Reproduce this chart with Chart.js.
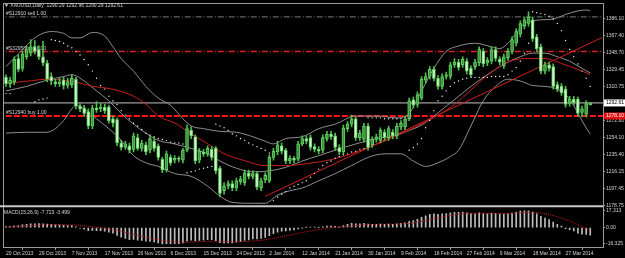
<!DOCTYPE html>
<html>
<head>
<meta charset="utf-8">
<title>XAUUSD Daily</title>
<script src="https://cdn.jsdelivr.net/npm/chart.js@4.4.1/dist/chart.umd.min.js"></script>
<style>
    html, body { margin: 0; padding: 0; background: #000; }
    #myChart { display: block; }
</style>
</head>
<body>
<canvas id="myChart" width="625" height="258"></canvas>
<script>
'use strict';
//Daily candles, 20 Oct 2013 - 3 Apr 2014
const opens = [
    1321, 1314, 1316, 1342, 1331, 1344, 1348, 1355, 1352, 1344,
    1337, 1322, 1316, 1314, 1318, 1312, 1313, 1319, 1289, 1287,
    1283, 1267, 1287, 1286, 1288, 1288, 1275, 1274, 1248, 1244,
    1245, 1241, 1254, 1242, 1246, 1240, 1250, 1245, 1230, 1218,
    1232, 1229, 1231, 1229, 1240, 1262, 1255, 1229, 1238, 1236,
    1241, 1242, 1220, 1195, 1200, 1203, 1198, 1205, 1204, 1215,
    1211, 1214, 1198, 1207, 1206, 1232, 1238, 1245, 1240, 1228,
    1231, 1230, 1247, 1253, 1254, 1244, 1241, 1240, 1253, 1258,
    1256, 1243, 1238, 1264, 1269, 1275, 1254, 1252, 1267, 1246,
    1252, 1251, 1260, 1254, 1260, 1256, 1266, 1266, 1275, 1296,
    1291, 1298, 1318, 1322, 1330, 1320, 1311, 1322, 1322, 1335,
    1338, 1335, 1339, 1331, 1333, 1337, 1350, 1337, 1339, 1352,
    1341, 1334, 1343, 1350, 1359, 1369, 1378, 1381, 1385, 1366,
    1355, 1328, 1335, 1333, 1313, 1311, 1308, 1292, 1297, 1297,
    1282, 1280, 1290.29
];
const highs = [
    1324, 1321, 1344, 1346, 1350, 1356, 1363, 1362, 1356, 1361,
    1340, 1326, 1319, 1320, 1321, 1320, 1324, 1321, 1292, 1290,
    1286, 1290, 1294, 1292, 1291, 1290, 1278, 1276, 1251, 1250,
    1248, 1259, 1258, 1251, 1249, 1256, 1254, 1247, 1232, 1239,
    1235, 1234, 1233, 1242, 1268, 1266, 1257, 1242, 1241, 1245,
    1244, 1244, 1222, 1204, 1206, 1206, 1209, 1211, 1218, 1218,
    1217, 1216, 1209, 1215, 1235, 1242, 1250, 1248, 1242, 1234,
    1233, 1250, 1256, 1256, 1257, 1247, 1244, 1257, 1261, 1261,
    1259, 1246, 1268, 1272, 1279, 1277, 1262, 1270, 1270, 1255,
    1258, 1265, 1263, 1267, 1263, 1270, 1273, 1278, 1298, 1299,
    1305, 1322, 1326, 1333, 1333, 1323, 1325, 1327, 1338, 1342,
    1341, 1344, 1342, 1334, 1341, 1355, 1353, 1343, 1355, 1355,
    1344, 1347, 1353, 1366, 1375, 1384, 1388, 1394, 1388, 1369,
    1358, 1338, 1338, 1336, 1316, 1314, 1311, 1300, 1300, 1299,
    1289, 1295, 1292.96
];
const lows = [
    1311, 1310, 1313, 1327, 1328, 1341, 1345, 1347, 1341, 1334,
    1316, 1313, 1311, 1311, 1308, 1309, 1310, 1286, 1283, 1278,
    1264, 1264, 1282, 1283, 1281, 1270, 1266, 1245, 1240, 1241,
    1237, 1238, 1240, 1239, 1235, 1237, 1239, 1229, 1215, 1216,
    1223, 1226, 1227, 1226, 1238, 1253, 1225, 1226, 1233, 1233,
    1229, 1214, 1188, 1191, 1197, 1195, 1195, 1202, 1201, 1208,
    1208, 1196, 1195, 1204, 1204, 1229, 1235, 1236, 1225, 1225,
    1226, 1228, 1245, 1247, 1240, 1238, 1236, 1237, 1250, 1252,
    1240, 1235, 1236, 1261, 1266, 1251, 1251, 1249, 1240, 1243,
    1249, 1248, 1251, 1251, 1253, 1253, 1263, 1263, 1273, 1287,
    1288, 1296, 1315, 1319, 1317, 1308, 1308, 1319, 1319, 1332,
    1329, 1332, 1325, 1321, 1330, 1334, 1333, 1334, 1336, 1339,
    1335, 1331, 1340, 1347, 1356, 1366, 1375, 1378, 1361, 1350,
    1325, 1325, 1328, 1308, 1305, 1301, 1288, 1289, 1290, 1278,
    1277, 1277, 1290.29
];
const closes = [
    1314, 1318, 1341, 1330, 1347, 1352, 1355, 1350, 1344, 1337,
    1319, 1317, 1314, 1316, 1312, 1316, 1320, 1289, 1286, 1281,
    1267, 1287, 1285, 1288, 1284, 1273, 1270, 1248, 1243, 1247,
    1240, 1256, 1242, 1248, 1238, 1253, 1242, 1232, 1218, 1236,
    1226, 1231, 1230, 1240, 1264, 1256, 1228, 1239, 1236, 1242,
    1232, 1217, 1192, 1200, 1203, 1198, 1206, 1208, 1215, 1211,
    1214, 1199, 1206, 1212, 1232, 1239, 1246, 1239, 1228, 1231,
    1229, 1247, 1253, 1250, 1243, 1241, 1239, 1254, 1258, 1255,
    1243, 1238, 1265, 1269, 1275, 1254, 1259, 1267, 1243, 1252,
    1255, 1262, 1254, 1264, 1256, 1267, 1270, 1275, 1295, 1290,
    1302, 1319, 1322, 1330, 1320, 1311, 1322, 1324, 1335, 1338,
    1332, 1341, 1328, 1324, 1338, 1352, 1336, 1340, 1352, 1342,
    1338, 1344, 1350, 1363, 1372, 1381, 1385, 1388, 1364, 1353,
    1328, 1335, 1331, 1311, 1308, 1304, 1291, 1297, 1293, 1281,
    1286, 1292, 1292.61
];
//Parabolic SAR dots (null = not visible)
const sarValues = [
    1303, 1303, null, null, null, null, null, 1294, 1296, 1297,
    1298, 1363, 1362, 1361, 1359, 1356, 1354, 1350, 1346, 1341,
    1335, 1328, 1320, 1312, 1308, 1300, 1295, 1291, 1284, 1279,
    1275, 1270, 1267, 1263, 1259, 1257, 1255, 1253, 1252, 1251,
    1249, 1248, 1248, 1247, 1215, 1216, 1217, 1219, 1220, 1221,
    1222, 1269, 1267, 1265, 1262, 1258, 1256, 1253, 1251, 1248,
    1246, 1244, 1242, 1240, 1237, 1184, 1188, 1191, 1194, 1198,
    1200, 1202, 1204, 1206, 1210, 1214, 1219, 1223, 1226, 1228,
    1231, 1233, 1235, 1236, 1238, 1239, 1241, 1242, 1276, 1276,
    1276, 1276, 1275, 1275, 1275, 1275, 1275, null, 1240, 1243,
    1247, 1253, 1265, 1273, 1284, 1295, 1300, 1306, 1311, 1315,
    1317, 1319, 1320, 1321, 1321, 1321, 1321, 1321, 1322, 1322,
    1322, 1322, 1324, 1328, 1332, 1339, 1348, 1359, 1394, 1393,
    1392, 1391, 1389, 1386, 1381, 1373, 1362, 1352, 1344, 1336,
    1328, 1320, 1311
];
//Bollinger bands and moving average, [bar, price]
const bandUpper = [[0, 1333], [3, 1347], [6, 1361], [8, 1368], [11, 1372], [14, 1370], [16, 1365], [18, 1365], [21, 1371], [24, 1367], [26, 1355], [28, 1342], [31, 1328], [34, 1311], [37, 1298], [40, 1290], [43, 1275], [45, 1267], [48, 1264], [52, 1261], [56, 1260], [60, 1255], [63, 1250], [65, 1247], [68, 1253], [72, 1255], [76, 1264], [80, 1269], [85, 1278], [90, 1278], [95, 1276], [98, 1281], [101, 1306], [104, 1331], [107, 1350], [110, 1356], [114, 1359], [118, 1355], [120, 1353], [122, 1359], [124, 1370], [126, 1381], [128, 1384], [130, 1385], [133, 1386], [136, 1391], [139, 1395], [141, 1396], [142, 1395]];
const bandMiddle = [[0, 1306], [5, 1311], [10, 1318], [14, 1322], [16, 1324], [19, 1317], [22, 1306], [25, 1295], [28, 1281], [31, 1269], [34, 1259], [37, 1251], [41, 1247], [45, 1242], [49, 1236], [52, 1228], [56, 1220], [60, 1216], [64, 1217], [68, 1221], [72, 1228], [76, 1234], [80, 1240], [85, 1247], [90, 1253], [95, 1257], [98, 1262], [101, 1268], [104, 1278], [107, 1289], [110, 1300], [113, 1311], [116, 1321], [119, 1330], [122, 1338], [125, 1344], [128, 1348], [131, 1348], [134, 1344], [137, 1339], [140, 1331], [142, 1326]];
const bandLower = [[0, 1259], [5, 1260], [10, 1260], [12, 1264], [14, 1273], [16, 1286], [17, 1290], [19, 1286], [22, 1275], [25, 1264], [28, 1251], [31, 1234], [34, 1226], [37, 1222], [41, 1214], [45, 1211], [49, 1200], [52, 1189], [55, 1182], [60, 1181], [63, 1181], [66, 1190], [69, 1195], [72, 1198], [76, 1206], [80, 1214], [84, 1223], [88, 1232], [92, 1236], [96, 1236], [99, 1228], [102, 1222], [105, 1226], [108, 1233], [110, 1240], [113, 1267], [116, 1295], [119, 1311], [122, 1319], [125, 1317], [128, 1312], [131, 1311], [134, 1308], [137, 1297], [139, 1281], [141, 1265], [142, 1258]];
const maLine = [[0, 1314.5], [5, 1316.7], [10, 1318.9], [16, 1316.7], [21, 1311.2], [26, 1307.8], [31, 1300.1], [34, 1291.3], [37, 1278.1], [41, 1270.3], [45, 1258.2], [49, 1247.2], [53, 1236.2], [58, 1228.4], [63, 1222.9], [68, 1222.9], [73, 1225.1], [80, 1230.6], [88, 1242.8], [96, 1258.2], [101, 1269.2], [106, 1281.4], [110, 1294.6], [114, 1311.2], [117, 1323.3], [120, 1333.2], [123, 1339.8], [127, 1342.0], [131, 1342.0], [135, 1336.5], [139, 1329.9], [142, 1324.4]];
const trendLine = [[63.0, 1188.7], [144.8, 1365.2]];
//MACD(15,26,9)
const macdHist = [
    1.0, 1.2, 1.8, 2.2, 2.8, 3.3, 3.8, 4.0, 4.1, 4.0,
    3.6, 3.2, 2.9, 2.6, 2.3, 2.1, 2.0, 0.8, -0.5, -1.6,
    -3.0, -2.8, -3.0, -3.1, -3.5, -4.6, -5.8, -8.0, -9.8, -11.0,
    -12.3, -12.2, -13.0, -13.2, -14.0, -14.2, -14.8, -15.6, -16.8, -16.5,
    -16.7, -16.6, -16.4, -15.8, -13.9, -13.0, -13.6, -13.2, -12.9, -12.4,
    -12.4, -13.3, -15.5, -15.9, -15.8, -15.7, -15.0, -14.3, -13.2, -12.5,
    -11.6, -11.7, -11.0, -10.0, -8.2, -6.3, -4.6, -3.6, -3.3, -2.8,
    -2.4, -1.3, -0.3, 0.3, 0.4, 0.4, 0.3, 0.9, 1.5, 1.7,
    1.4, 0.9, 2.2, 3.3, 4.5, 4.0, 4.0, 4.5, 3.6, 3.4,
    3.4, 3.7, 3.4, 3.7, 3.5, 4.0, 4.5, 5.0, 6.6, 7.3,
    8.6, 10.5, 12.1, 13.6, 14.1, 13.8, 14.2, 14.4, 15.2, 15.8,
    15.7, 16.0, 15.3, 14.4, 14.3, 15.1, 14.5, 14.2, 14.8, 14.5,
    14.0, 13.9, 14.1, 15.0, 16.0, 16.9, 17.3, 17.2, 15.9, 14.3,
    11.5, 9.9, 8.3, 5.7, 3.5, 1.5, -1.0, -2.1, -3.4, -5.6,
    -6.7, -7.0, -7.723
];
const macdSignal = [[0, 0.5], [4, 1.5], [8, 2.6], [12, 3.1], [16, 2.7], [20, 1.4], [24, -0.8], [28, -4.0], [32, -8.0], [36, -11.5], [40, -14.2], [44, -15.0], [48, -14.2], [52, -14.0], [56, -14.6], [60, -13.8], [64, -11.8], [68, -8.5], [72, -5.0], [76, -2.0], [80, 0.2], [84, 1.8], [88, 3.0], [92, 3.5], [96, 3.8], [100, 5.5], [104, 9.2], [108, 12.5], [112, 14.5], [116, 14.8], [120, 14.6], [124, 14.8], [128, 15.8], [132, 13.5], [136, 8.5], [139, 3.0], [142, -3.499]];
//Axis labels
const dateLabels = ['20 Oct 2013', '29 Oct 2013', '7 Nov 2013', '17 Nov 2013', '26 Nov 2013', '6 Dec 2013', '15 Dec 2013', '24 Dec 2013', '2 Jan 2014', '12 Jan 2014', '21 Jan 2014', '30 Jan 2014', '9 Feb 2014', '18 Feb 2014', '27 Feb 2014', '9 Mar 2014', '18 Mar 2014', '27 Mar 2014'];
const priceTicks = [1386.10, 1367.40, 1348.70, 1329.45, 1310.75, 1272.80, 1254.10, 1235.40, 1216.15, 1197.45, 1178.75];
const macdTicks = [17.313, 0, -16.325];
//Order lines and bid
const orderLevels = [1388.3, 1349.8, 1278.1];
const orderNames = ['#S12910 sell 1.00', '#S32958 sell 1.00', '#S12940 buy 1.00'];
const bidPrice = 1292.61;
const title = '\u25BC XAUUSD,Daily  1290.29 1292.96 1290.29 1292.61';
const macdTitle = 'MACD(15,26,9) -7.723 -3.499';

const font5 = { family: 'Liberation Sans', size: 5 };
const axisGray = '#9c9c9c';
const textGray = '#d4d4d4';
const bandGray = '#8e8e8e';

function pts(arr) {
    return arr.map(p => ({ x: p[0], y: p[1] }));
}
function level(p) {
    return [{ x: -2, y: p }, { x: 147, y: p }];
}
function isUp(i) {
    return closes[i] >= opens[i];
}

const mt4Plugin = {
    id: 'mt4',
    beforeDraw(chart) {
        const c = chart.ctx;
        c.save();
        c.fillStyle = '#000';
        c.fillRect(0, 0, chart.width, chart.height);
        c.restore();
    },
    beforeDatasetsDraw(chart) {
        //order labels sit under the candles
        const c = chart.ctx, y = chart.scales.y;
        c.save();
        c.font = '5px "Liberation Sans"';
        c.fillStyle = textGray;
        c.textBaseline = 'alphabetic';
        orderNames.forEach((t, k) => {
            c.fillText(t, 6, y.getPixelForValue(orderLevels[k]) - 2);
        });
        c.restore();
    },
    afterDraw(chart) {
        const c = chart.ctx, a = chart.chartArea, y = chart.scales.y;
        c.save();
        //frame + separator between windows
        c.strokeStyle = axisGray;
        c.lineWidth = 1;
        c.strokeRect(a.left - 0.5, a.top - 0.5, a.right - a.left + 1, a.bottom - a.top + 1);
        c.strokeStyle = '#c8c8c8';
        c.lineWidth = 2;
        c.beginPath();
        c.moveTo(0, y.bottom);
        c.lineTo(a.right, y.bottom);
        c.stroke();
        //titles
        c.font = '5px "Liberation Sans"';
        c.fillStyle = textGray;
        c.textBaseline = 'middle';
        c.fillText(title, 4, 6);
        c.fillText(macdTitle, 4, y.bottom + 6);
        //bid and order price boxes on the axis
        const yb = y.getPixelForValue(bidPrice);
        c.fillStyle = '#ffffff';
        c.fillRect(a.right + 1, yb - 3.5, 21, 7);
        c.fillStyle = '#000';
        c.fillText(bidPrice.toFixed(2), a.right + 3, yb);
        const yo = y.getPixelForValue(orderLevels[2]);
        c.fillStyle = '#e01010';
        c.fillRect(a.right + 1, yo - 3.5, 21, 7);
        c.fillStyle = '#ffffff';
        c.fillText(orderLevels[2].toFixed(2), a.right + 3, yo);
        c.restore();
    }
};

const data = {
    datasets: [
        {
            type: 'bar', label: 'body', order: 0, yAxisID: 'y',
            data: opens.map((o, i) => ({ x: i, y: [o, closes[i]] })),
            grouped: false, barThickness: 3, minBarLength: 1,
            backgroundColor: ctx => isUp(ctx.dataIndex) ? '#3c963c' : '#d2f3cb',
            borderColor: '#62d062', borderWidth: 1, borderSkipped: false,
        },
        {
            type: 'bar', label: 'wick', order: 1, yAxisID: 'y',
            data: lows.map((l, i) => ({ x: i, y: [l, highs[i]] })),
            grouped: false, barThickness: 1,
            backgroundColor: '#4fbf4f', borderWidth: 0,
        },
        {
            type: 'line', label: 'sar', order: 2, yAxisID: 'y',
            data: sarValues.map((v, i) => ({ x: i, y: v })),
            showLine: false, pointRadius: 0.7, pointBorderWidth: 0,
            pointBackgroundColor: '#f0f0f0',
        },
        {
            type: 'line', label: 'ma', order: 3, yAxisID: 'y',
            data: pts(maLine), borderColor: '#c81e1e', borderWidth: 1,
            pointRadius: 0, cubicInterpolationMode: 'monotone',
        },
        {
            type: 'line', label: 'trend', order: 3, yAxisID: 'y',
            data: pts(trendLine), borderColor: '#d42020', borderWidth: 1, pointRadius: 0,
        },
        {
            type: 'line', label: 'upper', order: 4, yAxisID: 'y',
            data: pts(bandUpper), borderColor: bandGray, borderWidth: 1,
            pointRadius: 0, cubicInterpolationMode: 'monotone',
        },
        {
            type: 'line', label: 'middle', order: 4, yAxisID: 'y',
            data: pts(bandMiddle), borderColor: bandGray, borderWidth: 1,
            pointRadius: 0, cubicInterpolationMode: 'monotone',
        },
        {
            type: 'line', label: 'lower', order: 4, yAxisID: 'y',
            data: pts(bandLower), borderColor: bandGray, borderWidth: 1,
            pointRadius: 0, cubicInterpolationMode: 'monotone',
        },
        {
            type: 'line', label: 'sell1', order: 5, yAxisID: 'y',
            data: level(orderLevels[0]), borderColor: '#6f8377', borderWidth: 1,
            borderDash: [6, 2, 1, 2], pointRadius: 0,
        },
        {
            type: 'line', label: 'sell2', order: 5, yAxisID: 'y',
            data: level(orderLevels[1]), borderColor: '#d42424', borderWidth: 1.5,
            borderDash: [6, 2, 1, 2], pointRadius: 0,
        },
        {
            type: 'line', label: 'buy', order: 5, yAxisID: 'y',
            data: level(orderLevels[2]), borderColor: '#ff1414', borderWidth: 2,
            borderDash: [6, 2], pointRadius: 0,
        },
        {
            type: 'line', label: 'bid', order: 5, yAxisID: 'y',
            data: level(bidPrice), borderColor: '#c4c4c4', borderWidth: 1, pointRadius: 0,
        },
        {
            type: 'bar', label: 'macd', order: 1, yAxisID: 'y2',
            data: macdHist.map((v, i) => ({ x: i, y: v })),
            grouped: false, barThickness: 1,
            backgroundColor: '#bdbdbd', borderWidth: 0,
        },
        {
            type: 'line', label: 'signal', order: 0, yAxisID: 'y2',
            data: pts(macdSignal), borderColor: '#d01818', borderWidth: 1,
            borderDash: [1, 1], pointRadius: 0, cubicInterpolationMode: 'monotone',
        },
    ],
};

const config = {
    type: 'bar',
    data: data,
    plugins: [mt4Plugin],
    options: {
        responsive: false,
        animation: false,
        events: [],
        layout: { padding: { left: 1, top: 2, right: 0, bottom: 0 } },
        plugins: { legend: { display: false }, tooltip: { enabled: false } },
        scales: {
            x: {
                type: 'linear', min: -0.484, max: 145.1, offset: false,
                afterBuildTicks: s => { s.ticks = dateLabels.map((d, k) => ({ value: k * 8 })); },
                afterFit: s => { s.height = 11; },
                ticks: {
                    autoSkip: false, maxRotation: 0, align: 'start', padding: 1,
                    color: textGray, font: font5,
                    callback: v => dateLabels[Math.round(v / 8)],
                },
                grid: { drawOnChartArea: false, tickLength: 3, color: axisGray },
                border: { color: axisGray },
            },
            y: {
                position: 'right', stack: 'pane', stackWeight: 204,
                min: 1177.6, max: 1402.65,
                afterBuildTicks: s => { s.ticks = priceTicks.map(v => ({ value: v })); },
                afterFit: s => { s.width = 22; },
                ticks: { padding: 1, color: textGray, font: font5, callback: v => v.toFixed(2) },
                grid: { drawOnChartArea: false, tickLength: 2, color: axisGray },
                border: { color: axisGray },
            },
            y2: {
                position: 'right', stack: 'pane', stackWeight: 41,
                min: -19.9, max: 21.9,
                afterBuildTicks: s => { s.ticks = macdTicks.map(v => ({ value: v })); },
                afterFit: s => { s.width = 22; },
                ticks: { padding: 1, color: textGray, font: font5, callback: v => v === 0 ? '0.00' : v.toFixed(3) },
                grid: { drawOnChartArea: false, tickLength: 2, color: axisGray },
                border: { color: axisGray },
            },
        },
    },
};

const myChart = new Chart(document.getElementById('myChart'), config);
</script>
</body>
</html>
